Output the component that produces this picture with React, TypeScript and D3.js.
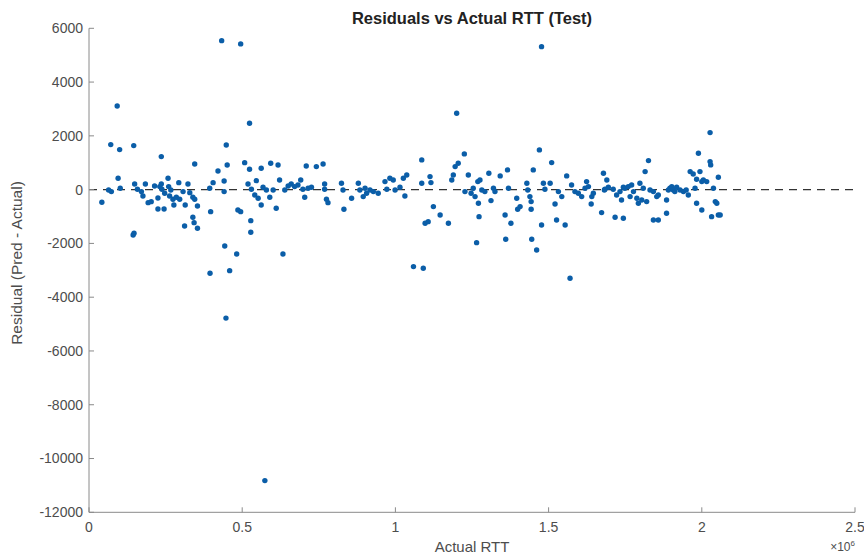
import React from "react";
import * as d3 from "d3";

// Actual RTT (in units of 1e6) and residual (Pred - Actual)
const lowRange: [number, number][] = [
  [0.042,-471],[0.071,1674],[0.100,1488],[0.095,422],[0.102,50],[0.073,-74],[0.064,-12],[0.146,1637],
  [0.144,-1686],[0.147,-1624],[0.149,211],[0.158,12],[0.171,-74],[0.176,-236],[0.184,211],[0.193,-484],
  [0.203,-446],[0.214,136],[0.225,-310],[0.231,112],[0.236,211],[0.238,12],[0.247,-136],[0.258,422],
  [0.260,112],[0.263,-236],[0.267,-12],[0.274,-360],[0.277,-570],[0.285,-285],[0.293,260],[0.296,-360],
  [0.307,-74],[0.314,-570],[0.323,211],[0.329,-112],[0.339,-285],[0.345,-360],[0.354,-608],[0.225,-719],
  [0.245,-719],[0.236,1228],[0.345,955],[0.312,-1352],[0.339,-1029],[0.343,-1228],[0.354,-1438],[0.394,50],
  [0.405,260],[0.397,-818],[0.421,694],[0.441,322],[0.441,-74],[0.448,1662],[0.451,918],[0.443,-2096],
  [0.459,-3013],[0.482,-2393],[0.395,-3112],[0.486,-756],[0.495,-818],[0.508,1004],[0.524,756],[0.524,2468],
  [0.528,-1153],[0.528,-1587],[0.519,211],[0.530,12],[0.541,-198],[0.546,335],[0.552,-322],[0.562,794],
  [0.562,-570],[0.568,87],[0.579,-12],[0.590,-285],[0.593,980],[0.601,-12],[0.611,-694],[0.617,918],
  [0.622,360],[0.633,-2393],[0.639,-12],[0.650,136],[0.660,211],[0.671,112],[0.682,174],[0.691,360],
  [0.698,12],[0.704,-285],[0.709,880],[0.715,50],[0.726,87],[0.742,856],[0.764,955],[0.769,211],
  [0.769,12],[0.775,-360],[0.780,-484],[0.824,236],[0.829,-12],[0.832,-732],
];

const midRange: [number, number][] = [
  [0.857,-321],[0.879,237],[0.884,-11],[0.895,-259],[0.901,51],[0.906,-135],[0.917,-11],[0.928,-73],
  [0.944,-135],[0.966,299],[0.972,14],[0.982,423],[0.993,361],[0.999,-11],[1.015,88],[1.026,423],
  [1.031,-234],[1.037,547],[1.086,1105],[1.086,237],[1.097,-1252],[1.107,-1190],[1.113,485],[1.116,262],
  [1.124,-631],[1.146,-941],[1.173,-1252],[1.059,-2863],[1.091,-2925],[1.184,361],[1.189,547],[1.195,857],
  [1.200,2839],[1.205,981],[1.225,1328],[1.227,-73],[1.238,547],[1.247,-135],[1.254,51],[1.260,-259],
  [1.269,299],[1.271,-507],[1.276,361],[1.273,-1004],[1.265,-1971],[1.282,-11],[1.292,-73],[1.305,609],
  [1.312,-408],[1.320,51],[1.325,-73],[1.342,510],[1.358,-941],[1.360,-1846],[1.366,733],[1.369,51],
  [1.377,-1252],[1.396,-321],[1.399,-730],[1.407,-631],[1.429,237],[1.432,-11],[1.439,-259],[1.443,-445],
  [1.443,-730],[1.445,-1846],[1.450,733],[1.461,-2243],[1.470,1477],[1.477,-1314],[1.483,237],[1.488,14],
  [1.505,237],[1.510,1006],[1.521,-532],[1.526,-1128],[1.532,-73],[1.543,-259],[1.554,-1314],[1.559,510],
  [1.570,-3298],[1.575,175],[1.586,-73],[1.597,-135],[1.608,-259],[1.619,51],[1.624,299],[1.630,113],
  [1.641,-259],[1.639,-532],[1.646,-135],[1.673,-854],[1.679,609],[1.682,-11],
];

const highRange: [number, number][] = [
  [1.690,361],[1.695,88],[1.684,14],[1.711,14],[1.722,-197],[1.733,-73],[1.738,-383],[1.744,88],
  [1.749,51],[1.760,113],[1.766,-259],[1.771,175],[1.777,-73],[1.788,-321],[1.793,-507],[1.798,237],
  [1.804,-383],[1.809,51],[1.815,671],[1.820,-445],[1.826,1080],[1.831,-11],[1.842,-73],[1.853,-259],
  [1.858,-197],[1.885,-383],[1.891,-11],[1.896,51],[1.902,113],[1.907,-11],[1.912,-73],[1.918,88],
  [1.929,-11],[1.940,-73],[1.956,-197],[1.962,671],[1.972,584],[1.983,386],[1.989,1353],[1.994,671],
  [2.000,299],[2.005,361],[2.016,299],[2.027,1043],[2.029,919],[2.027,2121],[2.054,460],[2.038,51],
  [2.044,-445],[2.049,-507],[2.054,-941],[2.060,-941],[2.032,-1004],[1.983,-507],[2.000,-755],[1.885,-879],
  [1.842,-1128],[1.858,-1128],[1.717,-1029],[1.744,-1066],[1.978,51],[1.949,-11],
];

const outliers: [number, number][] = [
  [0.433,5541],[0.495,5419],[0.092,3113],[1.477,5318],[0.447,-4778],[0.574,-10822],
];

const xTicks = [0, 0.5, 1, 1.5, 2, 2.5];
const xTickLabels = ["0", "0.5", "1", "1.5", "2", "2.5"];
const yTicks = [-12000, -10000, -8000, -6000, -4000, -2000, 0, 2000, 4000, 6000];

const TITLE = "Residuals vs Actual RTT (Test)";
const X_LABEL = "Actual RTT";
const Y_LABEL = "Residual (Pred - Actual)";

const W = 864;
const H = 558;
const FONT = "'Liberation Sans', Arial, Helvetica, sans-serif";

export default function App() {
  const x = d3.scaleLinear().domain([0, 2.5]).range([89, 855]);
  const y = d3.scaleLinear().domain([-12000, 6000]).range([512.3, 28.3]);
  const points = [...lowRange, ...midRange, ...highRange, ...outliers];
  const axisColor = "#8a8a8a";
  const textColor = "#4d4d4d";
  const fmtY = (v: number) => (v < 0 ? "-" + Math.abs(v) : String(v));
  const x0 = x.range()[0];
  const x1 = x.range()[1];
  const yb = y.range()[0];
  const yt = y.range()[1];

  return (
    <svg width={W} height={H} style={{ position: "absolute", left: 0, top: 0, background: "#fff" }} fontFamily={FONT}>
      <rect x={0} y={0} width={W} height={H} fill="#fff" />
      {/* zero line */}
      <line x1={x0} x2={x1} y1={y(0)} y2={y(0)} stroke="#333" strokeWidth={1.4} strokeDasharray="8 6" />
      {/* points */}
      {points.map((p, i) => (
        <circle key={i} cx={x(p[0])} cy={y(p[1])} r={2.7} fill="#0b5ea8" />
      ))}
      {/* axes */}
      <line x1={x0} x2={x0} y1={yt} y2={yb} stroke={axisColor} strokeWidth={1} />
      <line x1={x0} x2={x1} y1={yb} y2={yb} stroke={axisColor} strokeWidth={1} />
      {yTicks.map((t) => (
        <g key={"y" + t}>
          <line x1={x0} x2={x0 + 5} y1={y(t)} y2={y(t)} stroke={axisColor} />
          <text x={x0 - 6} y={y(t)} dy="0.35em" textAnchor="end" fontSize={14} fill={textColor}>
            {fmtY(t)}
          </text>
        </g>
      ))}
      {xTicks.map((t, i) => (
        <g key={"x" + t}>
          <line x1={x(t)} x2={x(t)} y1={yb} y2={yb - 5} stroke={axisColor} />
          <text x={x(t)} y={yb + 20} textAnchor="middle" fontSize={14} fill={textColor}>
            {xTickLabels[i]}
          </text>
        </g>
      ))}
      <text x={x1} y={yb + 39} textAnchor="end" fontSize={12} fill={textColor}>
        ×10<tspan dy={-5} fontSize={8}>6</tspan>
      </text>
      <text x={(x0 + x1) / 2} y={yb + 40} textAnchor="middle" fontSize={15} fill={textColor}>
        {X_LABEL}
      </text>
      <text
        transform={`translate(${22},${263}) rotate(-90)`}
        textAnchor="middle"
        fontSize={15.5}
        fill={textColor}
      >
        {Y_LABEL}
      </text>
      <text x={(x0 + x1) / 2} y={24} textAnchor="middle" fontSize={16.5} fontWeight="bold" fill="#222">
        {TITLE}
      </text>
    </svg>
  );
}
